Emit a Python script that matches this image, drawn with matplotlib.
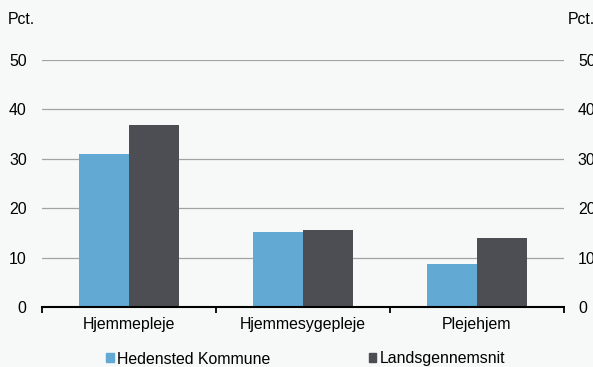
import numpy as np
import matplotlib
matplotlib.use("Agg")
import matplotlib.pyplot as plt
from matplotlib.patches import Patch

categories = ["Hjemmepleje", "Hjemmesygepleje", "Plejehjem"]
series_names = ["Hedensted Kommune", "Landsgennemsnit"]
hedensted = [31.0, 15.2, 8.8]
landsgns = [36.8, 15.6, 14.0]

BG = "#f7f8f8"
C_LIGHT = "#62a9d4"
C_DARK = "#4d4e53"

plt.rcParams["font.family"] = ["Liberation Sans", "DejaVu Sans"]
plt.rcParams["font.size"] = 11.4

fig = plt.figure(figsize=(5.93, 3.67), dpi=100, facecolor=BG)
ax = fig.add_axes([0.0708, 0.1635, 0.8803, 0.673], facecolor=BG)

x = np.arange(len(categories))
w = 0.287
ax.bar(x - w / 2, hedensted, w, color=C_LIGHT, zorder=3)
ax.bar(x + w / 2, landsgns, w, color=C_DARK, zorder=3)

ax.set_xlim(-0.5, len(categories) - 0.5)
ax.set_ylim(0, 50)
ax.set_yticks(range(0, 51, 10))
for v in range(10, 51, 10):
    ax.axhline(v, color="#a3a3a3", lw=0.9, zorder=1)

ax.set_xticks(x)
ax.set_xticklabels(categories)
ax.set_xticks(np.arange(-0.5, len(categories), 1), minor=True)
ax.tick_params(axis="x", which="major", length=0, pad=7)
ax.tick_params(axis="x", which="minor", length=4, width=1.3, direction="out", color="black")
ax.tick_params(axis="y", length=0, pad=11)

for s in ["top", "right", "left"]:
    ax.spines[s].set_visible(False)
ax.spines["bottom"].set_linewidth(1.5)
ax.spines["bottom"].set_zorder(4)

# right-hand copy of the value axis (cut off by the figure edge, as in the original)
ax2 = ax.twinx()
ax2.set_ylim(0, 50)
ax2.set_yticks(range(0, 51, 10))
ax2.tick_params(axis="y", length=0, pad=10)
for s in ax2.spines.values():
    s.set_visible(False)

fig.text(8 / 593, 1 - 19 / 367, "Pct.", ha="left", va="center")
fig.text(568 / 593, 1 - 19 / 367, "Pct.", ha="left", va="center")

handles = [Patch(color=C_LIGHT), Patch(color=C_DARK)]
fig.legend(handles, series_names, loc="center left", bbox_to_anchor=(106 / 593, 1 - 359 / 367),
           ncol=2, frameon=False, handlelength=0.5, handleheight=0.5,
           handletextpad=0.2, columnspacing=6.2, borderpad=0, borderaxespad=0)

fig.savefig("out.png", dpi=100, facecolor=BG)
